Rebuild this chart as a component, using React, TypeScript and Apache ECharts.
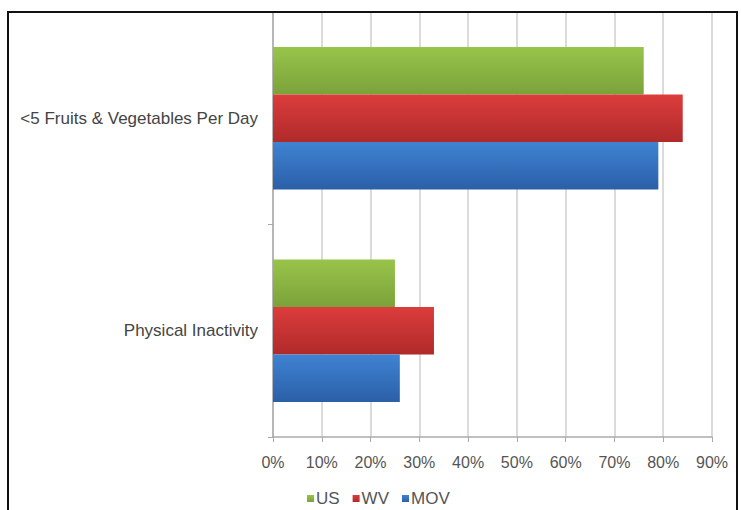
import React, { useEffect, useRef } from "react";
import * as echarts from "echarts";

const categories = ["Physical Inactivity", "<5 Fruits & Vegetables Per Day"];
const usValues = [25, 76];
const wvValues = [33, 84];
const movValues = [26, 79];
const xTicks = [0, 10, 20, 30, 40, 50, 60, 70, 80, 90];

const grad = (top: string, bottom: string) =>
  new echarts.graphic.LinearGradient(0, 0, 0, 1, [
    { offset: 0, color: top },
    { offset: 1, color: bottom },
  ]);

export default function App() {
  const ref = useRef<HTMLDivElement>(null);
  useEffect(() => {
    const chart = echarts.init(ref.current!, undefined, { renderer: "svg" });
    chart.setOption({
      animation: false,
      backgroundColor: "#ffffff",
      textStyle: { fontFamily: "Liberation Sans, Arial, sans-serif" },
      graphic: [
        {
          type: "rect",
          shape: { x: 8, y: 12, width: 729, height: 520 },
          style: { fill: "none", stroke: "#111", lineWidth: 2 },
          silent: true,
          z: 100,
        },
      ],
      legend: {
        data: ["US", "WV", "MOV"],
        top: 485,
        left: 302,
        itemWidth: 7,
        itemHeight: 7,
        itemGap: 13,
        icon: "rect",
        textStyle: { color: "#555", fontSize: 17, padding: [0, 0, 0, -3] },
      },
      grid: { left: 273, right: 29, top: 12, bottom: 73 },
      xAxis: {
        type: "value",
        min: 0,
        max: 90,
        interval: 10,
        axisLine: { show: true, lineStyle: { color: "#aaa", width: 1.5 } },
        axisTick: { show: true, length: 5, lineStyle: { color: "#aaa" } },
        splitLine: { show: true, lineStyle: { color: "#cfcfcf", width: 1.5 } },
        axisLabel: {
          color: "#555",
          fontSize: 16,
          margin: 17,
          formatter: (v: number) => (xTicks.includes(v) ? v + "%" : ""),
        },
      },
      yAxis: {
        type: "category",
        data: categories,
        axisLine: { show: true, lineStyle: { color: "#aaa", width: 1.5 } },
        axisTick: { show: true, length: 5, lineStyle: { color: "#aaa" } },
        axisLabel: { color: "#444", fontSize: 17, margin: 15 },
      },
      series: [
        {
          name: "US",
          type: "bar",
          data: usValues,
          barGap: "0%",
          barCategoryGap: "33%",
          itemStyle: { color: grad("#98c44a", "#7ba23a") },
        },
        {
          name: "WV",
          type: "bar",
          data: wvValues,
          barGap: "0%",
          barCategoryGap: "33%",
          itemStyle: { color: grad("#dc3c3c", "#b02a2a") },
        },
        {
          name: "MOV",
          type: "bar",
          data: movValues,
          barGap: "0%",
          barCategoryGap: "33%",
          itemStyle: { color: grad("#3f83d2", "#2b5fa8") },
        },
      ],
    });
    return () => chart.dispose();
  }, []);
  return <div ref={ref} style={{ width: 741, height: 510, position: "absolute", left: 0, top: 0 }} />;
}
